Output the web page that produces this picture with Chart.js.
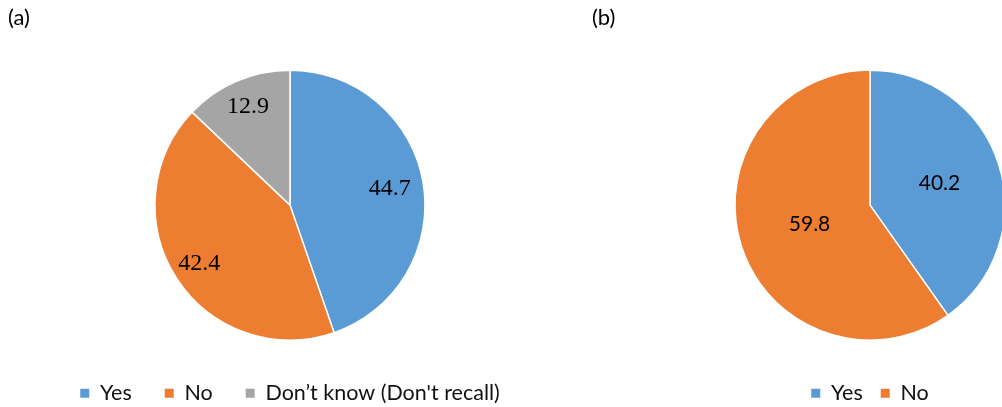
<!DOCTYPE html>
<html>
<head>
<meta charset="utf-8">
<script src="https://cdn.jsdelivr.net/npm/chart.js@4.4.1/dist/chart.umd.min.js"></script>
<style>
  html, body {
    margin: 0;
    padding: 0;
    width: 1002px;
    height: 407px;
    overflow: hidden;
    background: #fff;
  }
  .panel {
    position: absolute;
    top: 0;
    width: 580px;
    height: 414px;
  }
  .tag {
    position: absolute;
    top: 4px;
    font-family: Lato, "Noto Sans", sans-serif;
    font-size: 22px;
    line-height: 26px;
    color: #000;
  }
</style>
</head>
<body>
<div class="panel" style="left:0"><canvas id="chartA" width="580" height="414"></canvas></div>
<div class="panel" style="left:580px"><canvas id="chartB" width="580" height="414"></canvas></div>
<div class="tag" style="left:8px">(a)</div>
<div class="tag" style="left:592px">(b)</div>
<script>
const chartALabels = ["Yes", "No", "Don’t know (Don't recall)"];
const chartAValues = [44.7, 42.4, 12.9];
const chartBLabels = ["Yes", "No"];
const chartBValues = [40.2, 59.8];
const sliceColors = ["#5B9BD5", "#ED7D31", "#A5A5A5"];

// writes each slice's value inside the pie
const sliceValuePlugin = {
  id: "sliceValues",
  afterDatasetsDraw(chart, args, opts) {
    const ctx = chart.ctx;
    const meta = chart.getDatasetMeta(0);
    const values = chart.data.datasets[0].data;
    ctx.save();
    ctx.font = opts.font;
    ctx.fillStyle = "#000";
    ctx.textAlign = "center";
    ctx.textBaseline = "middle";
    meta.data.forEach((arc, i) => {
      const mid = (arc.startAngle + arc.endAngle) / 2;
      const r = arc.outerRadius * opts.radius[i];
      const x = arc.x + Math.cos(mid) * r;
      const y = arc.y + Math.sin(mid) * r;
      ctx.fillText(values[i].toFixed(1), x, y);
    });
    ctx.restore();
  },
};

function legendLabels(chart) {
  const items = Chart.overrides.doughnut.plugins.legend.labels.generateLabels(chart);
  return items.map((item) => ({ ...item, lineWidth: 0 }));
}

function makePie(id, labels, values, legendPadding, topPadding, valueFont, valueRadius) {
  return new Chart(document.getElementById(id), {
    type: "pie",
    data: {
      labels: labels,
      datasets: [
        {
          data: values,
          backgroundColor: sliceColors.slice(0, values.length),
          borderColor: "#fff",
          borderWidth: 1.5,
          radius: 135,
        },
      ],
    },
    options: {
      responsive: false,
      animation: false,
      layout: { padding: { top: topPadding, bottom: 0, left: 0, right: 0 } },
      plugins: {
        tooltip: { enabled: false },
        legend: {
          position: "bottom",
          labels: {
            boxWidth: 9,
            boxHeight: 9,
            padding: legendPadding,
            color: "#111",
            font: { family: "Lato", size: 21.5 },
            generateLabels: legendLabels,
          },
        },
        sliceValues: { font: valueFont, radius: valueRadius },
      },
    },
    plugins: [sliceValuePlugin],
  });
}

makePie("chartA", chartALabels, chartAValues, 33, 60.75,
  "24px 'Liberation Serif', 'Times New Roman', serif", [0.75, 0.8, 0.79]);
makePie("chartB", chartBLabels, chartBValues, 18, 45.75,
  "21px Lato, sans-serif", [0.54, 0.47]);
</script>
</body>
</html>
